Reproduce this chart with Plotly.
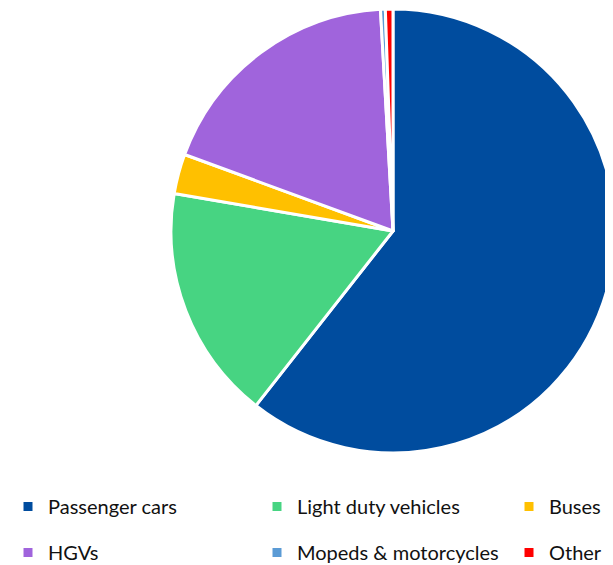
import plotly.graph_objects as go

categories = ["Passenger cars", "Light duty vehicles", "Buses", "HGVs", "Mopeds & motorcycles", "Other"]
values = [60.6, 17.1, 2.9, 18.5, 0.35, 0.55]
colors = ["#004C9E", "#47D482", "#FFC000", "#A064DC", "#5B9BD5", "#FF0000"]
# legend column for each category (reference lays legend out in 3 columns x 2 rows)
legend_cols = ["legend", "legend2", "legend3", "legend", "legend2", "legend3"]

fig = go.Figure()
fig.add_trace(go.Pie(
    labels=categories,
    values=values,
    sort=False,
    direction="clockwise",
    rotation=0,
    textinfo="none",
    hoverinfo="label+percent",
    showlegend=False,
    marker=dict(colors=colors, line=dict(color="white", width=3)),
    domain=dict(x=[0.2659, 0.9902], y=[0.2124, 0.9982]),
))

# legend-only entries (square swatches) arranged in three columns
for name, col, leg in zip(categories, colors, legend_cols):
    fig.add_trace(go.Scatter(
        x=[None], y=[None], mode="markers", name=name,
        marker=dict(symbol="square", size=9, color=col),
        legend=leg, legendgroup=name, showlegend=True, hoverinfo="skip",
    ))

legend_font = dict(family="Lato", size=20, color="#111111")
common = dict(orientation="v", yanchor="top", xanchor="left", y=0.1522,
              font=legend_font, tracegroupgap=17, bgcolor="rgba(0,0,0,0)",
              traceorder="grouped")

fig.update_layout(
    width=613, height=565,
    margin=dict(l=0, r=0, t=0, b=0),
    paper_bgcolor="white",
    plot_bgcolor="white",
    xaxis=dict(visible=False),
    yaxis=dict(visible=False),
    legend=dict(x=0.0, **common),
    legend2=dict(x=0.4062, **common),
    legend3=dict(x=0.8173, **common),
)

fig.write_html("out.html")
